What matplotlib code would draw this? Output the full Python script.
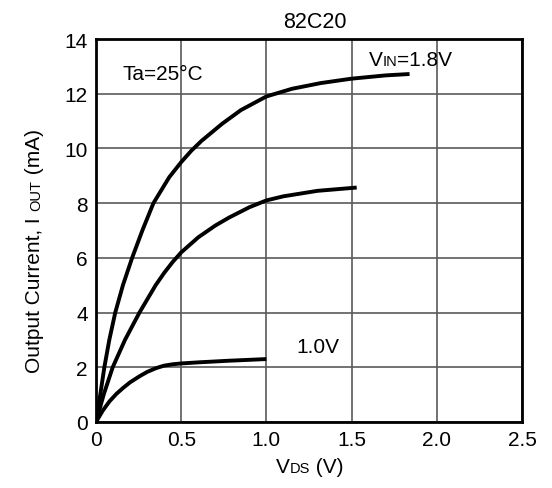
import matplotlib
matplotlib.use("Agg")
import matplotlib.pyplot as plt

plt.rcParams['font.family'] = ['Liberation Sans', 'DejaVu Sans']

# Data
x_18 = [0, 0.025, 0.049, 0.078, 0.113, 0.158, 0.212, 0.272, 0.337, 0.43, 0.50, 0.56, 0.62, 0.74, 0.85, 1.0, 1.15, 1.32, 1.5, 1.7, 1.84]
y_18 = [0, 1.0, 2.0, 3.0, 4.0, 5.0, 6.0, 7.0, 8.0, 8.95, 9.5, 9.92, 10.28, 10.9, 11.4, 11.9, 12.18, 12.39, 12.55, 12.67, 12.72]

x_15 = [0, 0.045, 0.098, 0.17, 0.255, 0.35, 0.40, 0.45, 0.50, 0.60, 0.70, 0.78, 0.90, 1.0, 1.1, 1.3, 1.53]
y_15 = [0, 1.0, 2.0, 3.0, 4.0, 5.0, 5.45, 5.85, 6.2, 6.75, 7.18, 7.47, 7.85, 8.1, 8.25, 8.45, 8.57]

x_10 = [0, 0.04, 0.08, 0.12, 0.16, 0.20, 0.255, 0.30, 0.353, 0.40, 0.45, 0.50, 0.60, 0.78, 1.0]
y_10 = [0, 0.42, 0.76, 1.03, 1.25, 1.45, 1.67, 1.83, 1.97, 2.06, 2.11, 2.14, 2.18, 2.24, 2.3]

xticks = [0, 0.5, 1.0, 1.5, 2.0, 2.5]
xticklabels = ['0', '0.5', '1.0', '1.5', '2.0', '2.5']
yticks = [0, 2, 4, 6, 8, 10, 12, 14]

W, H = 552, 489
fig = plt.figure(figsize=(W / 100, H / 100), dpi=100)
ax = fig.add_axes([96 / W, 1 - 423 / H, (522 - 96) / W, (423 - 40) / H])

FS = 15
SMALL = 10.5

ax.set_xlim(0, 2.5)
ax.set_ylim(0, 14)
ax.set_xticks(xticks)
ax.set_xticklabels(xticklabels)
ax.set_yticks(yticks)
ax.tick_params(length=0, labelsize=FS, pad=6)
ax.grid(True, color='#5a5a5a', linewidth=1.2)
ax.set_axisbelow(True)
for s in ax.spines.values():
    s.set_linewidth(2)
    s.set_color('black')

for xs, ys in [(x_18, y_18), (x_15, y_15), (x_10, y_10)]:
    ax.plot(xs, ys, color='black', linewidth=2.8, solid_capstyle='butt',
            solid_joinstyle='round', zorder=3)

fig.text(315 / W, (H - 28) / H, '82C20', fontsize=15.5, ha='center', va='baseline')

# Annotations
ax.text(0.158, 12.54, 'Ta=25°C', fontsize=FS, va='baseline', ha='left')
t1 = ax.text(1.60, 13.05, 'V', fontsize=FS, va='baseline', ha='left')
t2 = ax.annotate('IN', xy=(1, 13.05), xycoords=(t1, 'data'), fontsize=SMALL, va='baseline', ha='left')
t3 = ax.annotate('=1.8V', xy=(1, 13.05), xycoords=(t2, 'data'), fontsize=FS, va='baseline', ha='left')
ax.text(1.175, 2.56, '1.0V', fontsize=FS, va='baseline', ha='left')

fig.canvas.draw()
r = fig.canvas.get_renderer()

# X label with small letters
xl_y = (H - 473) / H
p1 = fig.text(0, xl_y, 'V', fontsize=FS, va='baseline', ha='left')
p2 = fig.text(0, xl_y, 'DS', fontsize=SMALL, va='baseline', ha='left')
p3 = fig.text(0, xl_y, ' (V)', fontsize=FS, va='baseline', ha='left')
widths = [p.get_window_extent(r).width for p in (p1, p2, p3)]
x0 = 310 - sum(widths) / 2
for p, w in zip((p1, p2, p3), widths):
    p.set_x(x0 / W)
    x0 += w

# Y label (rotated)
yl_x = 40 / W
q1 = fig.text(yl_x, 0, 'Output Current, I ', fontsize=FS, rotation=90,
              rotation_mode='anchor', ha='left', va='baseline')
q2 = fig.text(yl_x, 0, 'OUT', fontsize=SMALL, rotation=90, rotation_mode='anchor', ha='left', va='baseline')
q3 = fig.text(yl_x, 0, ' (mA)', fontsize=FS, rotation=90, rotation_mode='anchor', ha='left', va='baseline')
heights = [q.get_window_extent(r).height for q in (q1, q2, q3)]
y0 = (H - 251) - sum(heights) / 2
for q, h in zip((q1, q2, q3), heights):
    q.set_y(y0 / H)
    y0 += h

fig.savefig('out.png', dpi=100, facecolor='white')
